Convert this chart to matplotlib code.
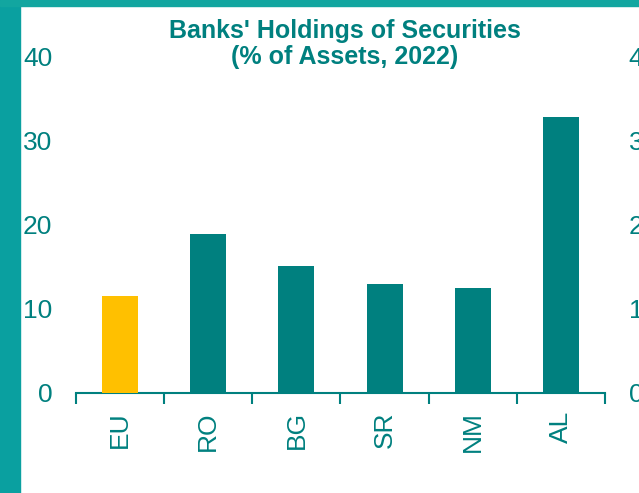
import matplotlib.pyplot as plt
from matplotlib.patches import Rectangle
import numpy as np

# data
countries = ['EU', 'RO', 'BG', 'SR', 'NM', 'AL']
holdings = [11.5, 18.9, 15.1, 13.0, 12.5, 32.9]
bar_colors = ['#FFC000', '#00807F', '#00807F', '#00807F', '#00807F', '#00807F']
yticks = [0, 10, 20, 30, 40]

teal = '#00807F'
plt.rcParams['font.family'] = ['Liberation Sans', 'DejaVu Sans']

fig = plt.figure(figsize=(6.39, 4.93), dpi=100)
W, H = 639, 493

# teal frame on the left and top
fig.patches.append(Rectangle((0, 0), 20 / W, 1, transform=fig.transFigure,
                             color='#0AA0A0', zorder=0))
fig.patches.append(Rectangle((0, 1 - 6 / H), 1, 6 / H, transform=fig.transFigure,
                             color='#12A6A0', zorder=0))

ax = fig.add_axes([76 / W, 1 - 393 / H, (605 - 76) / W, (393 - 57) / H])
ax.patch.set_alpha(0)
x = np.arange(len(countries))
ax.bar(x, holdings, width=0.41, color=bar_colors, zorder=3)

ax.set_xlim(-0.5, len(countries) - 0.5)
ax.set_ylim(0, 40)
ax.set_yticks(yticks)
ax.set_xticks(x)
ax.set_xticklabels(countries, rotation=90, fontsize=19, color=teal)
ax.set_xticks(np.arange(len(countries) + 1) - 0.5, minor=True)
ax.tick_params(axis='x', which='major', length=0, pad=13)
ax.tick_params(axis='x', which='minor', length=8, width=1.5, color=teal, direction='out')
ax.tick_params(axis='y', length=0, pad=17, labelsize=19, labelcolor=teal)

for s in ['top', 'right', 'left']:
    ax.spines[s].set_visible(False)
ax.spines['bottom'].set_color(teal)
ax.spines['bottom'].set_linewidth(1.5)

ax2 = ax.twinx()
ax2.set_ylim(0, 40)
ax2.set_yticks(yticks)
ax2.tick_params(axis='y', length=0, pad=17, labelsize=19, labelcolor=teal)
for s in ['top', 'right', 'left', 'bottom']:
    ax2.spines[s].set_visible(False)

fig.text(345 / W, 1 - 44 / H, "Banks' Holdings of Securities\n(% of Assets, 2022)",
         ha='center', va='center', fontsize=18, fontweight='bold', color=teal,
         linespacing=1.1)

fig.savefig('out.png', dpi=100)
